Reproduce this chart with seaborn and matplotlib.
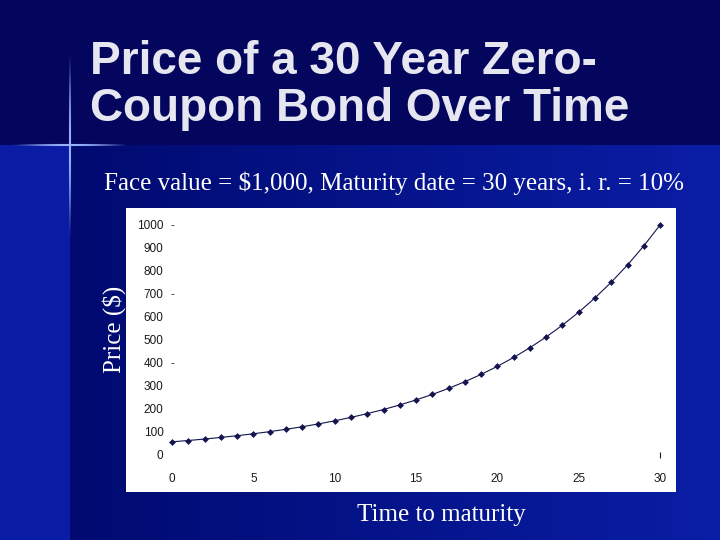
import numpy as np
import pandas as pd
import seaborn as sns
import matplotlib.pyplot as plt
from matplotlib.colors import to_rgb

# ------------ data: years to maturity and bond price ------------
years = list(range(31))
price = [57.3, 63.0, 69.3, 76.3, 83.9, 92.3, 101.5, 111.7, 122.8, 135.1,
         148.6, 163.5, 179.9, 197.8, 217.6, 239.4, 263.3, 289.7, 318.6, 350.5,
         385.5, 424.1, 466.5, 513.2, 564.5, 620.9, 683.0, 751.3, 826.4, 909.1,
         1000.0]
x_ticks = [0, 5, 10, 15, 20, 25, 30]
y_ticks = [0, 100, 200, 300, 400, 500, 600, 700, 800, 900, 1000]
y_dash = [400, 700, 1000]   # stray tick marks visible in the original chart

df = pd.DataFrame({"years": years, "price": price})

sns.set_theme(style="white")
plt.rcParams["font.family"] = ["Liberation Sans", "DejaVu Sans"]

W, H = 720, 540
fig = plt.figure(figsize=(7.2, 5.4), dpi=100)

# ------------ slide background ------------
bg = fig.add_axes([0, 0, 1, 1])
img = np.zeros((H, W, 3))
top = np.array(to_rgb("#03065c"))
left_c = np.array(to_rgb("#000a70"))
right_c = np.array(to_rgb("#0a1ea6"))
strip = np.array(to_rgb("#0a1ca4"))
t = np.clip((np.arange(W) - 70) / (W - 70), 0, 1)[:, None]
row = left_c * (1 - t) + right_c * t
img[:, :, :] = row[None, :, :]
img[:, :70, :] = strip
img[:145, :, :] = top
bg.imshow(img, extent=[0, W, H, 0], aspect="auto")

# decorative cross
xs = np.linspace(0, 125, 200)
for i in range(len(xs) - 1):
    a = max(0, 1 - abs(xs[i] - 70) / 60) ** 1.5
    bg.plot(xs[i:i + 2], [145, 145], color="#9ab4ff", alpha=a, lw=1.5)
ys = np.linspace(50, 240, 200)
for i in range(len(ys) - 1):
    a = max(0, 1 - abs(ys[i] - 145) / 95) ** 1.5
    bg.plot([70, 70], ys[i:i + 2], color="#9ab4ff", alpha=a, lw=1.5)
bg.set_xlim(0, W)
bg.set_ylim(H, 0)
bg.axis("off")

# ------------ titles ------------
fig.text(90 / W, 1 - 62 / H, "Price of a 30 Year Zero-", color="#e6e6f0",
         fontsize=33, fontweight="bold", va="center", ha="left")
fig.text(90 / W, 1 - 109 / H, "Coupon Bond Over Time", color="#e6e6f0",
         fontsize=33, fontweight="bold", va="center", ha="left")
fig.text(394 / W, 1 - 183 / H, "Face value = $1,000, Maturity date = 30 years, i. r. = 10%",
         color="white", fontsize=18, family="Liberation Serif",
         ha="center", va="center")
fig.text(114 / W, 1 - 329 / H, "Price ($)", color="white", fontsize=18,
         family="Liberation Serif", rotation=90, ha="center", va="center")
fig.text(441 / W, 1 - 515 / H, "Time to maturity", color="white", fontsize=18,
         family="Liberation Serif", ha="center", va="center")

# ------------ chart panel ------------
ax = fig.add_axes([126 / W, 1 - 492 / H, 550 / W, 284 / H])
ax.set_facecolor("white")
sns.lineplot(data=df, x="years", y="price", ax=ax, color="#14144e",
             lw=0.8, marker="D", markersize=3.5, markeredgewidth=0)
ax.set_xlim(-2.83, 30.98)
ax.set_ylim(-160.9, 1073.9)
ax.set_xticks(x_ticks)
ax.set_yticks(y_ticks)
ax.set_xlabel("")
ax.set_ylabel("")
for s in ax.spines.values():
    s.set_visible(False)
ax.tick_params(axis="both", length=0, labelsize=8.5, labelcolor="#1a1a1a")
ax.tick_params(axis="y", pad=-27)
ax.tick_params(axis="x", pad=-14)
for lab in ax.get_yticklabels():
    lab.set_ha("right")

# stray tick marks from the original export
for v in y_dash:
    ax.text(0, v, "-", fontsize=8, color="#1a1a1a", ha="center", va="center")
ax.plot([x_ticks[-1]], [y_ticks[0]], marker="|", ms=4, color="#1a1a1a", mew=0.8)

fig.savefig("out.png", dpi=100)
